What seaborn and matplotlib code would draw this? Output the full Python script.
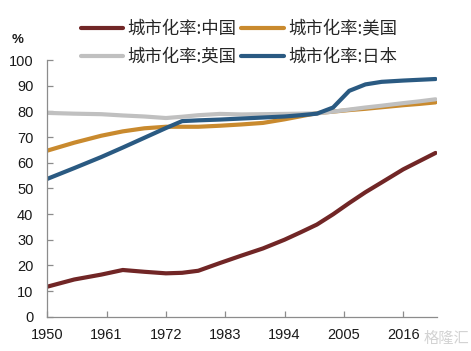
import matplotlib
matplotlib.use("Agg")
import matplotlib.pyplot as plt
import seaborn as sns
import pandas as pd

sns.set_theme(style="white")
plt.rcParams['font.family'] = ['Liberation Sans', 'Noto Sans CJK SC']

# data (urbanization rate, %)
years = [1950, 1955, 1960, 1964, 1968, 1972, 1975, 1978, 1982, 1986, 1990,
         1994, 1997, 2000, 2003, 2006, 2009, 2012, 2016, 2019, 2022]
china = [11.7, 14.5, 16.4, 18.2, 17.5, 16.9, 17.1, 17.9, 20.9, 23.8, 26.6,
         30.0, 32.9, 35.9, 39.9, 44.3, 48.5, 52.3, 57.4, 60.6, 63.8]
usa = [64.7, 67.8, 70.5, 72.2, 73.4, 74.0, 74.0, 74.0, 74.4, 74.9, 75.5,
       76.9, 78.1, 79.3, 79.9, 80.5, 81.0, 81.6, 82.4, 82.9, 83.5]
uk = [79.4, 79.1, 78.9, 78.4, 78.0, 77.4, 77.9, 78.5, 79.0, 78.8, 78.9,
      79.0, 79.1, 79.2, 79.9, 80.7, 81.5, 82.2, 83.2, 83.9, 84.7]
japan = [53.7, 57.9, 62.2, 65.9, 69.7, 73.5, 76.2, 76.5, 76.8, 77.2, 77.6,
         78.0, 78.5, 79.1, 81.5, 88.0, 90.5, 91.5, 92.0, 92.3, 92.6]

series_names = ['城市化率:中国', '城市化率:美国', '城市化率:英国', '城市化率:日本']
colors = ['#712626', '#C98A2E', '#C0C0C0', '#2A5A82']
xticks = [1950, 1961, 1972, 1983, 1994, 2005, 2016]
yticks = list(range(0, 101, 10))

frames = []
for name, vals in zip(series_names, [china, usa, uk, japan]):
    frames.append(pd.DataFrame({'year': years, 'value': vals, 'series': name}))
df = pd.concat(frames, ignore_index=True)

fig = plt.figure(figsize=(4.71, 3.51), dpi=100)
ax = fig.add_axes([0.1004, 0.0977, 0.8266, 0.7313])

sns.lineplot(data=df, x='year', y='value', hue='series', hue_order=series_names,
             palette=colors, linewidth=3.0, ax=ax, legend=True)

ax.set_xlim(1950, 2022.2)
ax.set_ylim(0, 100)
ax.set_xticks(xticks)
ax.set_yticks(yticks)
ax.set_xlabel('')
ax.set_ylabel('')

for side in ['top', 'right']:
    ax.spines[side].set_visible(False)
for side in ['left', 'bottom']:
    ax.spines[side].set_color('#8C8C8C')
    ax.spines[side].set_linewidth(0.9)

ax.tick_params(axis='both', direction='in', length=4, width=0.9, color='#8C8C8C',
               labelsize=10.5, labelcolor='#1a1a1a')
ax.tick_params(axis='y', pad=10)
ax.tick_params(axis='x', pad=8)
ax.tick_params(left=True, bottom=True)

handles, labels = ax.get_legend_handles_labels()
ax.get_legend().remove()
for h in handles:
    h.set_linewidth(3.0)
# legend fills column-major, so reorder to get rows: China/USA, UK/Japan
order = [0, 2, 1, 3]
fig.legend([handles[i] for i in order], [labels[i] for i in order],
           loc='center', bbox_to_anchor=(0.507, 0.878), ncol=2,
           frameon=False, handlelength=2.45, handletextpad=0.25,
           columnspacing=0.25, labelspacing=0.6,
           prop={'family': ['Noto Sans CJK SC', 'DejaVu Sans'], 'size': 12.5})

fig.text(0.038, 0.886, '%', fontsize=9.5, fontweight='bold', ha='center', va='center',
         color='#1a1a1a')

# faint watermark at bottom right
fig.text(0.997, 0.035, '格隆汇', fontsize=11, color='#c8c8c8', alpha=0.8,
         ha='right', va='center', family=['Noto Sans CJK SC'])

fig.savefig('out.png', dpi=100)
